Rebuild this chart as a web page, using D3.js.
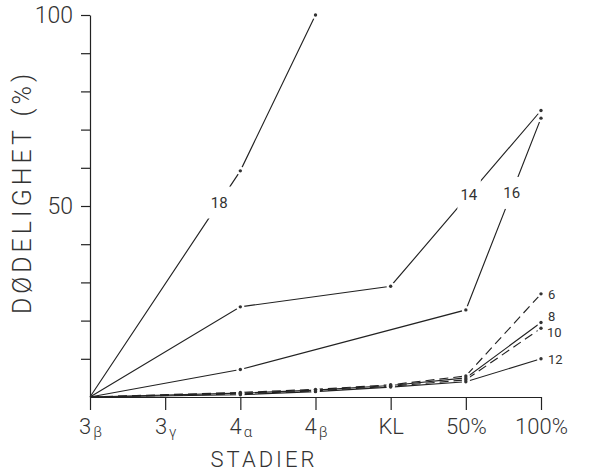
<!DOCTYPE html>
<html>
<head>
<meta charset="utf-8">
<script src="https://cdn.jsdelivr.net/npm/d3@7"></script>
<style>
  body { margin: 0; background: #fff; }
  text { font-family: Roboto, "Liberation Sans", Arial, sans-serif; font-weight: 300; fill: #333; }
</style>
</head>
<body>
<script>
// stages on the x axis
const stages = ["3β", "3γ", "4α", "4β", "KL", "50%", "100%"];
const yTicks = [10, 20, 30, 40, 50, 60, 70, 80, 90, 100];
const yTickLabels = [50, 100];

// mortality (%) per stage, null = not measured
const s6  = [0, null, 1.2, 2.0, 3.2, 5.5, 27];
const s8  = [0, null, 1.0, 1.8, 3.0, 5.0, 19.5];
const s10 = [0, null, 0.8, 1.6, 2.8, 4.5, 18];
const s12 = [0, null, 0.6, 1.4, 2.6, 4.0, 10];
const s14 = [0, null, 23.6, null, 29, null, 75];
const s16 = [0, null, 7.2, null, null, 22.8, 73];
const s18 = [0, null, 59.2, 100, null, null, null];

const seriesNames = ["6", "8", "10", "12", "14", "16", "18"];
const seriesValues = [s6, s8, s10, s12, s14, s16, s18];

// styling / label placement
const dashed = {"6": "9,5", "10": "9,5"};
const inlineLabel = {"18": {seg: 0, t: 0.86}, "14": {seg: -1, t: 0.52}, "16": {seg: -1, t: 0.61}};
const endLabel = {"6": [7, 1], "8": [7, -6], "10": [6, 4], "12": [7, 1]};

const width = 589, height = 474;
const svg = d3.select('body').append('svg')
    .attr('width', width).attr('height', height);

const x = d3.scalePoint().domain(stages).range([90, 541]);
const y = d3.scaleLinear().domain([0, 100]).range([397, 15]);

const series = seriesNames.map((name, k) => ({
    name,
    pts: stages.map((s, i) => ({stage: s, value: seriesValues[k][i]}))
        .filter(p => p.value !== null)
}));

const line = d3.line().x(d => x(d.stage)).y(d => y(d.value));

// lines
svg.append('g').selectAll('path').data(series).enter().append('path')
    .attr('d', d => line(d.pts))
    .attr('fill', 'none')
    .attr('stroke', '#222')
    .attr('stroke-width', 1.15)
    .attr('stroke-dasharray', d => dashed[d.name] || null);

// markers (white halo gives the hand-drawn gap round each dot)
const markers = series.flatMap(s => s.pts.slice(1).map(p => ({name: s.name, ...p})));
svg.append('g').selectAll('circle').data(markers).enter().append('circle')
    .attr('cx', d => x(d.stage)).attr('cy', d => y(d.value))
    .attr('r', 4).attr('fill', '#fff');
svg.append('g').selectAll('circle').data(markers).enter().append('circle')
    .attr('cx', d => x(d.stage)).attr('cy', d => y(d.value))
    .attr('r', 1.7).attr('fill', '#333');

// inline labels 14, 16, 18
series.filter(s => inlineLabel[s.name]).forEach(s => {
    const o = inlineLabel[s.name];
    const i = o.seg < 0 ? s.pts.length - 2 : o.seg;
    const a = s.pts[i], b = s.pts[i + 1];
    const px = x(a.stage) + o.t * (x(b.stage) - x(a.stage));
    const py = y(a.value) + o.t * (y(b.value) - y(a.value));
    const g = svg.append('g');
    const rect = g.append('rect').attr('fill', '#fff');
    const t = g.append('text')
        .attr('x', px).attr('y', py)
        .attr('text-anchor', 'middle').attr('dominant-baseline', 'central')
        .style('font-size', '15px').style('font-weight', 400).text(s.name);
    const bb = t.node().getBBox();
    rect.attr('x', bb.x - 3).attr('y', bb.y - 7)
        .attr('width', bb.width + 6).attr('height', bb.height + 14);
});

// end labels 6, 8, 10, 12
series.filter(s => endLabel[s.name]).forEach(s => {
    const p = s.pts[s.pts.length - 1];
    svg.append('text')
        .attr('x', x(p.stage) + endLabel[s.name][0])
        .attr('y', y(p.value) + endLabel[s.name][1])
        .attr('dominant-baseline', 'central')
        .style('font-size', '13px').style('font-weight', 400).text(s.name);
});

///////////////////////
// Axes
const yAxis = d3.axisLeft(y).tickValues(yTicks).tickSize(9).tickSizeOuter(0).tickPadding(8)
    .tickFormat(d => yTickLabels.includes(d) ? d : '');
const gy = svg.append('g').attr('transform', 'translate(90,0)').call(yAxis);
gy.selectAll('text').style('font-size', '23px');

const xAxis = d3.axisBottom(x).tickSize(13).tickSizeOuter(0).tickPadding(8);
const gx = svg.append('g').attr('transform', 'translate(0,397)').call(xAxis);
gx.selectAll('text').style('font-size', '22px')
    .each(function(d) {
        if (/^[0-9][α-ω]$/.test(d)) {
            const t = d3.select(this).text(null);
            t.append('tspan').text(d[0]);
            t.append('tspan').attr('dy', 3).attr('dx', 2).style('font-size', '15px').text(d[1]);
        }
    });

[gx, gy].forEach(g => {
    g.selectAll('path, line').attr('stroke', '#222').attr('stroke-width', 1.2);
});

// axis titles
svg.append('text')
    .attr('x', 264).attr('y', 467)
    .attr('text-anchor', 'middle')
    .style('font-size', '22px').style('letter-spacing', '3px')
    .text('STADIER');

svg.append('text')
    .attr('transform', 'translate(31,192) rotate(-90)')
    .attr('text-anchor', 'middle')
    .style('font-size', '25px').style('letter-spacing', '4px')
    .text('DØDELIGHET (%)');
</script>
</body>
</html>
